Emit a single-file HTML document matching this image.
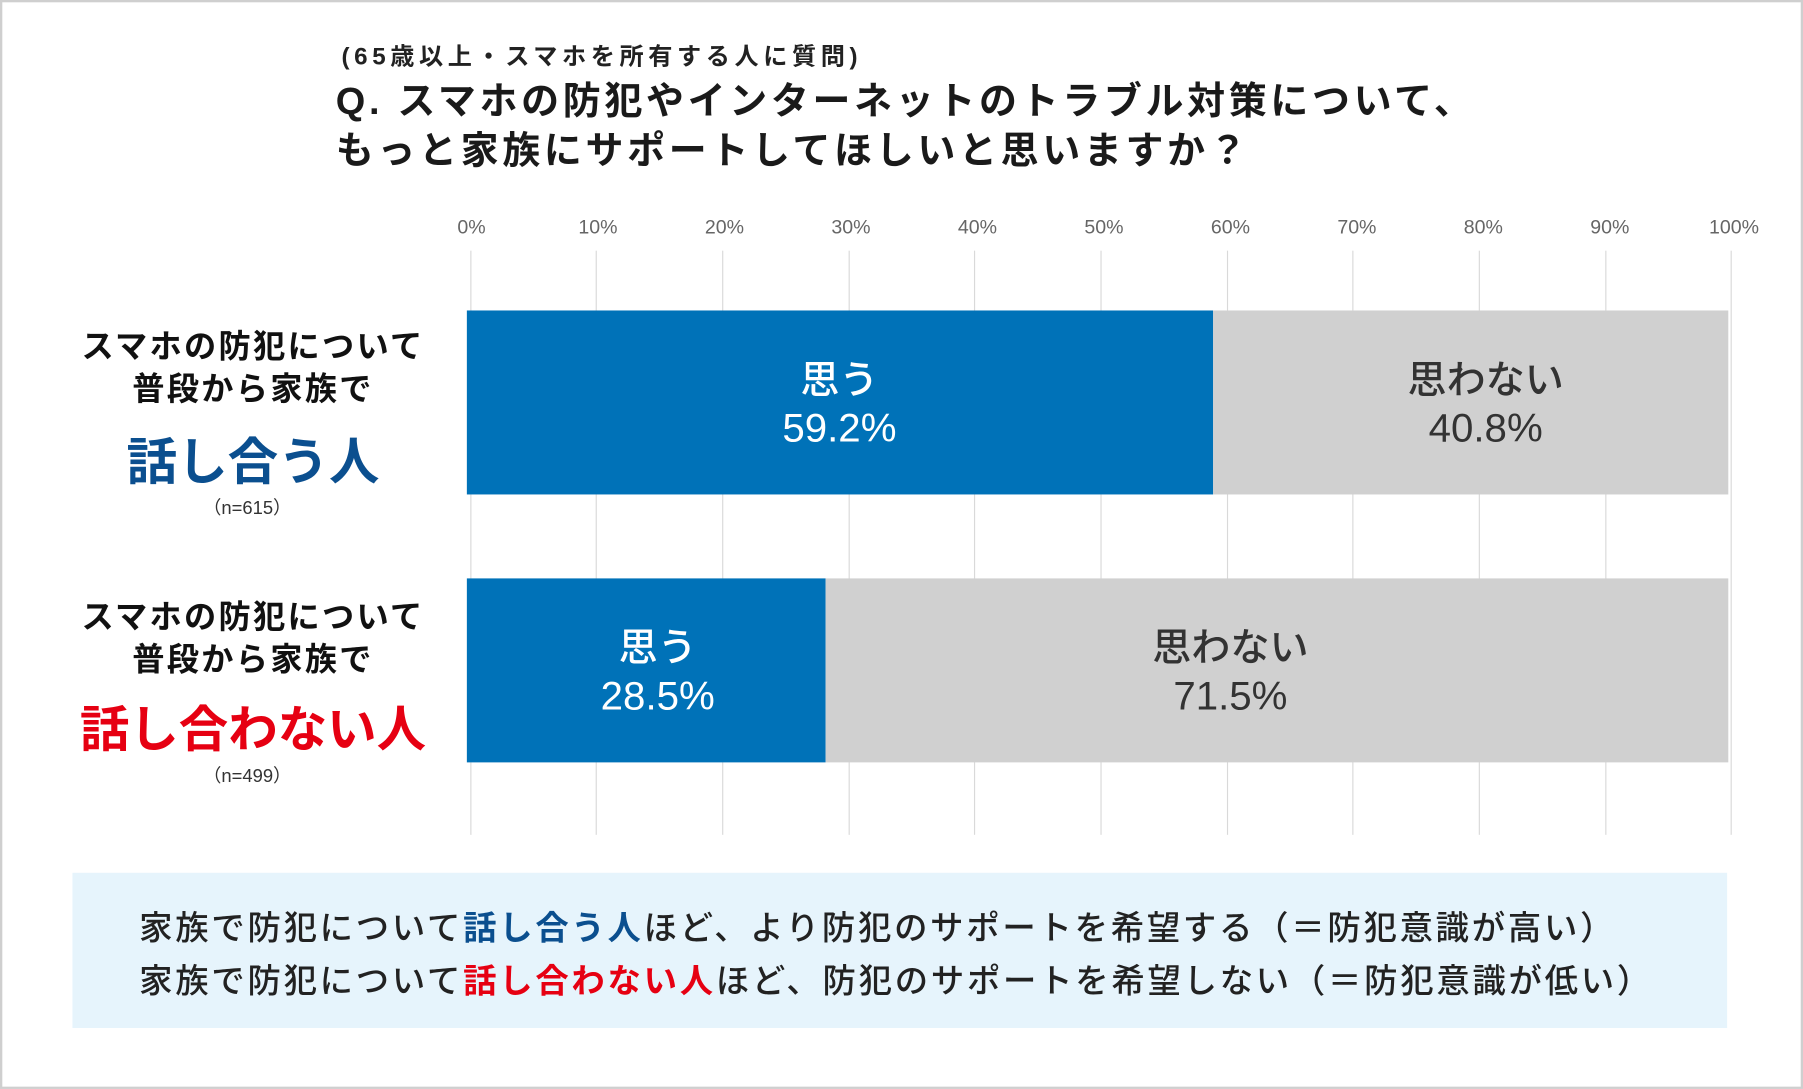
<!DOCTYPE html>
<html><head><meta charset="utf-8"><style>
html,body{margin:0;padding:0;background:#fff;}
body{width:1803px;height:1089px;overflow:hidden;}
#s{position:absolute;left:0;top:0;width:1568px;height:947px;transform:scale(1.1499);transform-origin:0 0;font-family:"Liberation Sans","Noto Sans CJK JP",sans-serif;color:#222;}
.a{position:absolute;white-space:nowrap;}
.frame{position:absolute;left:0;top:0;width:1564px;height:943px;border:2px solid #cfcfcf;}
.g{position:absolute;top:218px;width:1px;height:508px;background:#d9d9d9;}
.t{position:absolute;top:188px;font-size:17px;color:#666;transform:translateX(-50%);}
.c{transform:translateX(-50%);text-align:center;}
.bt{font-size:34px;line-height:42px;text-align:center;font-weight:500;}
.bt span{font-size:35px;}
.lab{font-size:28px;line-height:37px;font-weight:700;text-align:center;color:#111;letter-spacing:2px;}
</style></head><body><div id="s">
<div class="frame"></div>
<div class="a" style="left:297px;top:33px;font-size:21px;font-weight:700;letter-spacing:4px;">(65歳以上・スマホを所有する人に質問)</div>
<div class="a" style="left:292px;top:66px;font-size:33px;line-height:43px;font-weight:700;color:#1a1a1a;letter-spacing:3.2px;">Q. スマホの防犯やインターネットのトラブル対策について、<br>もっと家族にサポートしてほしいと思いますか？</div>
<div class="g" style="left:409px"></div><div class="g" style="left:518px"></div><div class="g" style="left:628px"></div><div class="g" style="left:738px"></div><div class="g" style="left:847px"></div><div class="g" style="left:957px"></div><div class="g" style="left:1067px"></div><div class="g" style="left:1176px"></div><div class="g" style="left:1286px"></div><div class="g" style="left:1396px"></div><div class="g" style="left:1505px"></div>
<div class="t" style="left:410px">0%</div><div class="t" style="left:520px">10%</div><div class="t" style="left:630px">20%</div><div class="t" style="left:740px">30%</div><div class="t" style="left:850px">40%</div><div class="t" style="left:960px">50%</div><div class="t" style="left:1070px">60%</div><div class="t" style="left:1180px">70%</div><div class="t" style="left:1290px">80%</div><div class="t" style="left:1400px">90%</div><div class="t" style="left:1508px">100%</div>
<div class="a" style="left:406px;top:270px;width:649px;height:160px;background:#0072b8;"></div>
<div class="a" style="left:1055px;top:270px;width:448px;height:160px;background:#d0d0d0;"></div>
<div class="a" style="left:406px;top:503px;width:312px;height:160px;background:#0072b8;"></div>
<div class="a" style="left:718px;top:503px;width:785px;height:160px;background:#d0d0d0;"></div>
<div class="a c bt" style="left:730px;top:310px;color:#fff;">思う<br><span>59.2%</span></div>
<div class="a c bt" style="left:1292px;top:310px;color:#333;">思わない<br><span>40.8%</span></div>
<div class="a c bt" style="left:572px;top:543px;color:#fff;">思う<br><span>28.5%</span></div>
<div class="a c bt" style="left:1070px;top:543px;color:#333;">思わない<br><span>71.5%</span></div>
<div class="a c lab" style="left:220px;top:283px;">スマホの防犯について<br>普段から家族で</div>
<div class="a c" style="left:220px;top:366px;font-size:44px;font-weight:700;color:#0b4f8f;">話し合う人</div>
<div class="a c" style="left:215px;top:428px;font-size:16px;color:#333;">（n=615）</div>
<div class="a c lab" style="left:220px;top:518px;">スマホの防犯について<br>普段から家族で</div>
<div class="a c" style="left:220px;top:600px;font-size:43px;font-weight:700;color:#e60012;">話し合わない人</div>
<div class="a c" style="left:215px;top:661px;font-size:16px;color:#333;">（n=499）</div>
<div class="a" style="left:63px;top:759px;width:1439px;height:135px;background:#e6f4fc;"></div>
<div class="a" style="left:121px;top:785px;font-size:29px;line-height:46px;font-weight:500;color:#222;letter-spacing:2.4px;">家族で防犯について<b style="color:#0b4f8f">話し合う人</b>ほど、より防犯のサポートを希望する（＝防犯意識が高い）<br>家族で防犯について<b style="color:#e60012">話し合わない人</b>ほど、防犯のサポートを希望しない（＝防犯意識が低い）</div>
</div></body></html>
